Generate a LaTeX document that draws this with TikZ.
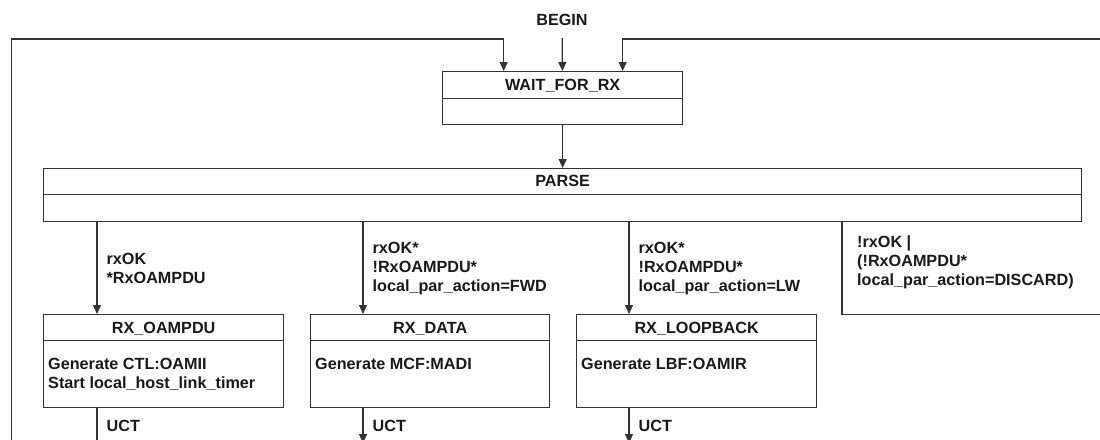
\documentclass[tikz,border=0pt]{standalone}
\usepackage{fontspec}
\setmainfont{Liberation Sans}
\usetikzlibrary{arrows.meta, calc}

\begin{document}
\begin{tikzpicture}[
        x=1pt, y=-1pt,
        every node/.style = {
            font=\bfseries\fontsize{16.2}{19}\selectfont,
            text=black!90,
            inner sep=0pt
        },
        line/.style = {draw=black!80, line width=1.3pt},
        flow/.style = {line, -{Triangle[length=9pt, width=8pt]}},
        statebox/.style 2 args = {
            line, anchor=north west,
            minimum width=#1, minimum height=#2
        },
        header/.style = {
            path picture={\draw[line] ([yshift=-#1]path picture bounding box.north west)
                -- ([yshift=-#1]path picture bounding box.north east);}
        },
        title/.style = {anchor=base},
        body/.style = {anchor=north west, align=left},
        cond/.style = {anchor=west, xshift=9pt, align=left}
    ]
    \useasboundingbox (0,0) rectangle (1100,439);
    \clip (0,0) rectangle (1100,439);

    % states
    \node[minimum height=36pt] (begin) at (562,20) {BEGIN};
    \node[statebox={240pt}{53pt}, header=27pt] (wait) at (442,71) {};
    \node[title] (waitT) at ([yshift=-19.5pt]wait.north) {WAIT\_FOR\_RX};
    \node[statebox={1038pt}{53pt}, header=26pt] (parse) at (43,168) {};
    \node[title] (parseT) at ([yshift=-18pt]parse.north) {PARSE};

    \node[statebox={240pt}{93pt}, header=26pt] (rxo) at (43,314) {};
    \node[title] (rxoT) at ([yshift=-19pt]rxo.north) {RX\_OAMPDU};
    \node[body] (rxoB) at ([xshift=5pt, yshift=-44pt]rxo.north west)
        {Generate CTL:OAMII\\Start local\_host\_link\_timer};

    \node[statebox={239pt}{93pt}, header=26pt] (rxd) at (310,314) {};
    \node[title] (rxdT) at ([yshift=-19pt]rxd.north) {RX\_DATA};
    \node[body] (rxdB) at ([xshift=5pt, yshift=-44pt]rxd.north west)
        {Generate MCF:MADI};

    \node[statebox={240pt}{93pt}, header=26pt] (rxl) at (576,314) {};
    \node[title] (rxlT) at ([yshift=-19pt]rxl.north) {RX\_LOOPBACK};
    \node[body] (rxlB) at ([xshift=5pt, yshift=-44pt]rxl.north west)
        {Generate LBF:OAMIR};

    \node[anchor=north west, minimum width=300pt, minimum height=93pt] (disc) at (842,221) {};
    \node[body] (discT) at ([xshift=15pt, yshift=-15pt]disc.north west)
        {!rxOK |\\(!RxOAMPDU*\\local\_par\_action=DISCARD)};

    % ends of the loops and exits
    \coordinate (loopL) at (11.5,450);
    \coordinate (loopR) at (1110,39);
    \coordinate (inL) at ([xshift=-59pt]wait.north);
    \coordinate (inR) at ([xshift=60pt]wait.north);
    \coordinate (bot) at (0,443);
    \coordinate (a1) at ([xshift=54pt]rxo.north west);
    \coordinate (a2) at ([xshift=53pt]rxd.north west);
    \coordinate (a3) at ([xshift=53pt]rxl.north west);

    % transitions
    \draw[flow] (begin) -- (wait);
    \draw[flow] (loopL) |- (inL |- loopR) -- (inL);
    \draw[flow] (loopR) -| (inR);
    \draw[flow] (wait) -- (parse);

    \draw[flow] (a1 |- parse.south) -- node[cond] (c1) {rxOK\\*RxOAMPDU} (a1);
    \draw[flow] (a2 |- parse.south) -- node[cond] (c2)
        {rxOK*\\!RxOAMPDU*\\local\_par\_action=FWD} (a2);
    \draw[flow] (a3 |- parse.south) -- node[cond] (c3)
        {rxOK*\\!RxOAMPDU*\\local\_par\_action=LW} (a3);
    \draw[line] (disc.north west) -- (disc.south west) -- (disc.south east);

    \draw[line] (a1 |- rxo.south) -- node[cond] (u1) {UCT} (a1 |- bot);
    \draw[flow] (a2 |- rxd.south) -- node[cond] (u2) {UCT} (a2 |- bot);
    \draw[flow] (a3 |- rxl.south) -- node[cond] (u3) {UCT} (a3 |- bot);
\end{tikzpicture}
\end{document}
